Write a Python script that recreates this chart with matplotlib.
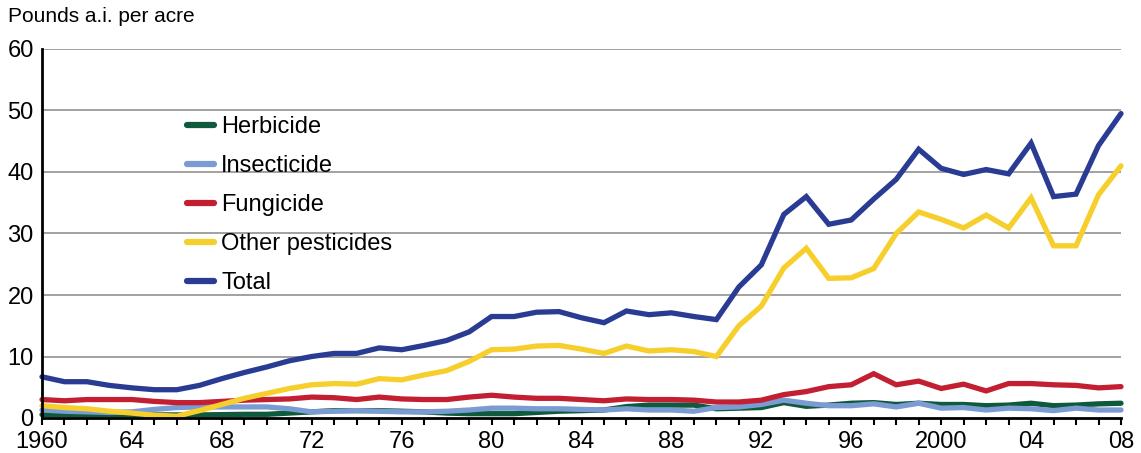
import matplotlib
matplotlib.use("Agg")
import matplotlib.pyplot as plt
import numpy as np

plt.rcParams['font.family'] = ['Liberation Sans', 'DejaVu Sans']

years = list(range(1960, 2009))

herbicide = [0.55, 0.55, 0.5, 0.5, 0.5, 0.5, 0.5, 0.5, 0.55, 0.6,
             0.6, 0.8, 1.0, 1.2, 1.2, 1.2, 1.1, 1.0, 0.8, 0.7,
             0.7, 0.7, 0.9, 1.1, 1.2, 1.3, 1.85, 2.1, 2.1, 2.1,
             1.5, 1.6, 1.7, 2.5, 1.9, 2.1, 2.4, 2.5, 2.2, 2.4,
             2.2, 2.2, 2.0, 2.1, 2.4, 2.0, 2.1, 2.3, 2.4]

insecticide = [1.3, 1.1, 1.0, 0.9, 1.0, 1.4, 1.7, 1.8, 1.8, 1.8,
               1.8, 1.5, 1.0, 1.1, 1.2, 1.1, 1.0, 1.0, 1.1, 1.3,
               1.6, 1.6, 1.5, 1.5, 1.4, 1.3, 1.5, 1.3, 1.3, 1.1,
               1.7, 1.8, 2.2, 2.9, 2.4, 2.0, 2.0, 2.3, 1.8, 2.4,
               1.6, 1.7, 1.3, 1.6, 1.5, 1.2, 1.6, 1.3, 1.3]

fungicide = [3.0, 2.8, 3.0, 3.0, 3.0, 2.7, 2.5, 2.5, 2.7, 2.9,
             3.0, 3.1, 3.4, 3.3, 3.0, 3.4, 3.1, 3.0, 3.0, 3.4,
             3.7, 3.4, 3.2, 3.2, 3.0, 2.8, 3.1, 3.0, 3.0, 2.9,
             2.6, 2.6, 2.9, 3.8, 4.3, 5.1, 5.4, 7.2, 5.4, 6.0,
             4.8, 5.5, 4.4, 5.6, 5.6, 5.4, 5.3, 4.9, 5.1]

other = [2.0, 1.7, 1.5, 1.1, 0.8, 0.45, 0.3, 1.2, 2.2, 3.2,
         4.0, 4.8, 5.4, 5.6, 5.5, 6.4, 6.2, 7.0, 7.7, 9.2,
         11.1, 11.2, 11.7, 11.8, 11.2, 10.5, 11.7, 10.9, 11.1, 10.8,
         10.0, 15.0, 18.2, 24.4, 27.6, 22.7, 22.8, 24.3, 30.0, 33.5,
         32.3, 30.9, 33.0, 30.9, 35.8, 28.0, 28.0, 36.3, 41.0]

total = [6.7, 5.9, 5.9, 5.3, 4.9, 4.6, 4.6, 5.3, 6.4, 7.4,
         8.3, 9.3, 10.0, 10.5, 10.5, 11.4, 11.1, 11.8, 12.6, 14.0,
         16.5, 16.5, 17.2, 17.3, 16.3, 15.5, 17.4, 16.8, 17.1, 16.5,
         16.0, 21.3, 24.9, 33.1, 36.0, 31.5, 32.2, 35.6, 38.8, 43.7,
         40.6, 39.6, 40.4, 39.7, 44.7, 36.0, 36.4, 44.3, 49.5]

series_names = ["Herbicide", "Insecticide", "Fungicide", "Other pesticides", "Total"]
series_values = [herbicide, insecticide, fungicide, other, total]
colors = ["#0f5a3c", "#7b9bd3", "#c21f32", "#f6cf2c", "#2a3b93"]

xtick_positions = list(range(1960, 2009, 4))
xtick_labels = ["1960", "64", "68", "72", "76", "80", "84", "88", "92", "96", "2000", "04", "08"]
ytick_values = [0, 10, 20, 30, 40, 50, 60]

fig = plt.figure(figsize=(11.41, 4.53), dpi=100)
ax = fig.add_axes([42/1141, 35/453, (1121-42)/1141, (418-49)/453])

for name, vals, c in zip(series_names, series_values, colors):
    ax.plot(years, vals, color=c, lw=3.8, label=name, solid_capstyle='round',
            solid_joinstyle='miter', zorder=3, clip_on=False)

ax.set_xlim(1960, 2008)
ax.set_ylim(0, 60)

for v in ytick_values[1:]:
    ax.axhline(v, color="#9a9a9a", lw=1.3, zorder=1)

ax.set_yticks(ytick_values)
ax.set_yticklabels([str(v) for v in ytick_values], fontsize=17)
ax.tick_params(axis='y', length=0, pad=6)

ax.set_xticks(years, minor=True)
ax.set_xticks(xtick_positions)
ax.set_xticklabels(xtick_labels, fontsize=17)
ax.tick_params(axis='x', which='both', direction='out', length=5, width=1.5, color='black', pad=4)

for s in ['top', 'right']:
    ax.spines[s].set_visible(False)
ax.spines['left'].set_linewidth(2)
ax.spines['bottom'].set_linewidth(2)
ax.spines['left'].set_zorder(4)
ax.spines['bottom'].set_zorder(4)

fig.text(8/1141, 1 - 17/453, "Pounds a.i. per acre", fontsize=15, va='center', ha='left')

leg = ax.legend(loc='upper left', bbox_to_anchor=(187/1141, 1 - 116/453),
                bbox_transform=fig.transFigure, frameon=False, fontsize=17,
                handlelength=1.15, handletextpad=0.3, labelspacing=0.72,
                borderpad=0, borderaxespad=0)
for line in leg.get_lines():
    line.set_linewidth(4.5)

fig.savefig("out.png", dpi=100)
